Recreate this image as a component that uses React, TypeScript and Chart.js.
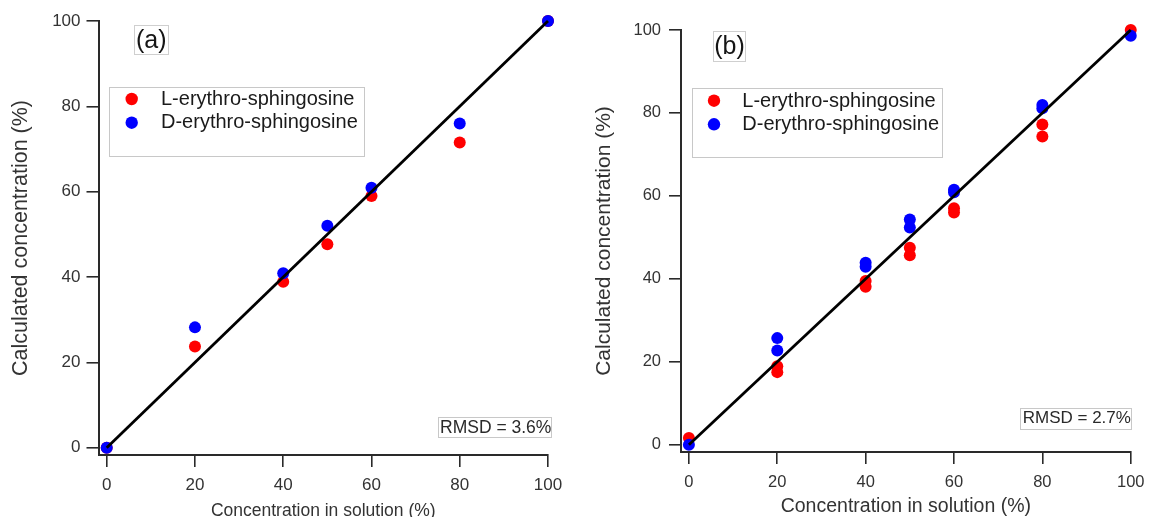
import React, { useEffect, useRef } from 'react';
import { Chart, registerables } from 'chart.js';

Chart.register(...registerables);

// ---------- data ----------
const TICKS = [0, 20, 40, 60, 80, 100];
const SERIES_L = 'L-erythro-sphingosine';
const SERIES_D = 'D-erythro-sphingosine';
const X_TITLE = 'Concentration in solution (%)';
const Y_TITLE = 'Calculated concentration (%)';

// panel (a)
const A_X = [0, 20, 40, 50, 60, 80, 100];
const A_L = [0, 23.7, 38.9, 47.7, 59.0, 71.5, 100];
const A_D = [0, 28.2, 40.9, 52.0, 60.9, 76.0, 100];
const A_RMSD = 'RMSD = 3.6%';

// panel (b)
const B_X = [0, 20, 20, 40, 40, 50, 50, 60, 60, 80, 80, 100];
const B_L = [1.6, 18.9, 17.5, 39.5, 38.1, 47.5, 45.7, 57.0, 56.0, 77.2, 74.3, 100];
const B_D = [0, 25.7, 22.7, 43.9, 42.9, 54.3, 52.4, 61.5, 60.9, 81.9, 81.1, 98.6];
const B_RMSD = 'RMSD = 2.7%';

// identity line
const FIT_X = [0, 100];
const FIT_Y = [0, 100];

// ---------- styling ----------
const W = 1153;
const H = 517;
const FONT = '"Liberation Sans", Arial, sans-serif';
const RED = '#ff0000';
const BLUE = '#0000ff';
const AXIS = '#2a2a2a';
const TEXT = '#333333';

const decorPlugin = {
  id: 'decor',
  afterDraw(chart: any, _args: any, o: any) {
    if (!o || !o.legendBox) return;
    const ctx = chart.ctx;
    ctx.save();
    const box = (r: number[], color: string) => {
      ctx.fillStyle = '#ffffff';
      ctx.fillRect(r[0], r[1], r[2] - r[0], r[3] - r[1]);
      ctx.strokeStyle = color;
      ctx.lineWidth = 1;
      ctx.strokeRect(Math.round(r[0]) + 0.5, Math.round(r[1]) + 0.5, Math.round(r[2] - r[0]), Math.round(r[3] - r[1]));
    };
    // panel label
    box(o.labelBox, '#cfcfcf');
    ctx.fillStyle = '#151515';
    ctx.font = `${o.labelSize}px ${FONT}`;
    ctx.textAlign = 'center';
    ctx.textBaseline = 'alphabetic';
    ctx.fillText(o.label, (o.labelBox[0] + o.labelBox[2]) / 2, o.labelBase);

    // legend
    box(o.legendBox, '#c8c8c8');
    const items = chart.data.datasets.filter((d: any) => !d.showLine);
    ctx.font = `${o.legendSize}px ${FONT}`;
    ctx.textAlign = 'left';
    items.forEach((d: any, i: number) => {
      ctx.fillStyle = d.backgroundColor;
      ctx.beginPath();
      ctx.arc(o.dotX, o.dotY[i], o.dotR, 0, Math.PI * 2);
      ctx.fill();
      ctx.fillStyle = '#1a1a1a';
      ctx.fillText(d.label, o.textX, o.textBase[i]);
    });

    // RMSD
    box(o.rmsdBox, '#c8c8c8');
    ctx.fillStyle = '#2a2a2a';
    ctx.font = `${o.rmsdSize}px ${FONT}`;
    ctx.textAlign = 'left';
    ctx.fillText(o.rmsd, o.rmsdX, o.rmsdBase);
    ctx.restore();
  },
};

const PANEL_A = {
  xs: A_X, l: A_L, d: A_D,
  xMin: -1.86, yMin: -1.71,
  pad: { left: 0, top: 21, right: W - 548, bottom: 0 },
  yWidth: 98.5, xHeight: H - 455,
  tickSize: 17, yTickPad: 6, xTickPad: 8,
  yTitleSize: 21.5, yTitlePadTop: 8,
  xTitleSize: 17.5, xTitlePadBottom: -4.5,
  decor: {
    label: '(a)', labelSize: 25, labelBox: [134.3, 25, 168.3, 54.3], labelBase: 48,
    legendBox: [109.3, 87.3, 364.3, 156], legendSize: 20,
    dotX: 131.7, dotY: [99, 122.7], dotR: 6.2, textX: 161, textBase: [105, 128.3],
    rmsd: A_RMSD, rmsdSize: 17.5, rmsdBox: [438.3, 417.3, 551.7, 437.3], rmsdX: 440, rmsdBase: 432.7,
  },
};

const PANEL_B = {
  xs: B_X, l: B_L, d: B_D,
  xMin: -1.79, yMin: -1.76,
  pad: { left: 579, top: 30, right: W - 1135, bottom: 0 },
  yWidth: 102, xHeight: H - 452,
  tickSize: 16.5, yTickPad: 8, xTickPad: 8.5,
  yTitleSize: 21, yTitlePadTop: 12.4,
  xTitleSize: 19.5, xTitlePadBottom: -1.2,
  decor: {
    label: '(b)', labelSize: 25, labelBox: [713.3, 30.7, 745.7, 60.3], labelBase: 53.5,
    legendBox: [691.7, 88.3, 941.7, 157.3], legendSize: 20,
    dotX: 714, dotY: [100.7, 124.3], dotR: 6.2, textX: 742.3, textBase: [106.7, 130],
    rmsd: B_RMSD, rmsdSize: 17, rmsdBox: [1020.3, 408.3, 1131.7, 429.3], rmsdX: 1022.7, rmsdBase: 423.3,
  },
};

function toPts(xs: number[], ys: number[]) {
  return xs.map((x, i) => ({ x, y: ys[i] }));
}

function buildConfig(s: any): any {
  const grid = { display: true, drawOnChartArea: false, drawTicks: true, tickLength: 12, color: AXIS, lineWidth: 1.6 };
  const border = { display: true, color: AXIS, width: 2 };
  const setTicks = (sc: any) => { sc.ticks = TICKS.map((v) => ({ value: v })); };
  return {
    type: 'scatter',
    data: {
      datasets: [
        { label: SERIES_L, data: toPts(s.xs, s.l), backgroundColor: RED, borderColor: RED, pointRadius: 6, pointBorderWidth: 0, order: 2, clip: false },
        { label: SERIES_D, data: toPts(s.xs, s.d), backgroundColor: BLUE, borderColor: BLUE, pointRadius: 6, pointBorderWidth: 0, order: 1, clip: false },
        { label: 'fit', data: toPts(FIT_X, FIT_Y), showLine: true, borderColor: '#000000', borderWidth: 2.8, pointRadius: 0, order: 0, clip: false },
      ],
    },
    options: {
      responsive: false,
      animation: false,
      devicePixelRatio: 1,
      events: [],
      layout: { padding: s.pad },
      plugins: { legend: { display: false }, tooltip: { enabled: false }, decor: s.decor },
      scales: {
        x: {
          type: 'linear', position: 'bottom', min: s.xMin, max: 100,
          afterBuildTicks: setTicks,
          afterFit: (sc: any) => { sc.height = s.xHeight; },
          ticks: { color: TEXT, font: { family: FONT, size: s.tickSize }, padding: s.xTickPad, maxRotation: 0, autoSkip: false },
          grid, border,
          title: { display: true, text: X_TITLE, color: TEXT, font: { family: FONT, size: s.xTitleSize }, padding: { top: 0, bottom: s.xTitlePadBottom } },
        },
        y: {
          type: 'linear', position: 'left', min: s.yMin, max: 100,
          afterBuildTicks: setTicks,
          afterFit: (sc: any) => { sc.width = s.yWidth; },
          ticks: { color: TEXT, font: { family: FONT, size: s.tickSize }, padding: s.yTickPad, autoSkip: false },
          grid, border,
          title: { display: true, text: Y_TITLE, color: TEXT, font: { family: FONT, size: s.yTitleSize }, padding: { top: s.yTitlePadTop, bottom: 0 } },
        },
      },
    },
    plugins: [decorPlugin],
  };
}

function Panel({ spec }: { spec: any }) {
  const ref = useRef<HTMLCanvasElement>(null);
  useEffect(() => {
    if (!ref.current) return;
    const chart = new Chart(ref.current, buildConfig(spec));
    return () => chart.destroy();
  }, [spec]);
  return (
    <canvas
      ref={ref}
      width={W}
      height={H}
      style={{ position: 'absolute', left: 0, top: 0, width: W, height: H, display: 'block' }}
    />
  );
}

export default function App() {
  return (
    <div style={{ position: 'fixed', left: 0, top: 0, width: W, height: H, background: '#ffffff', overflow: 'hidden' }}>
      <Panel spec={PANEL_A} />
      <Panel spec={PANEL_B} />
    </div>
  );
}
